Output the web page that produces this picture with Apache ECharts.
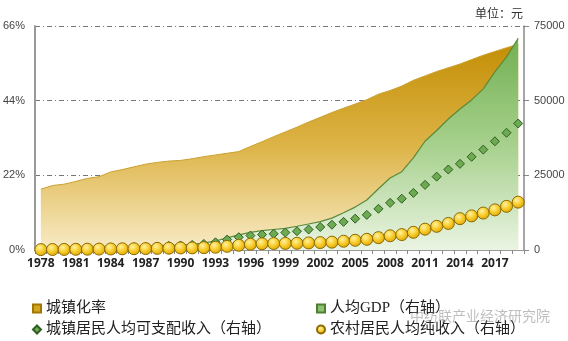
<!DOCTYPE html>
<html>
<head>
<meta charset="utf-8">
<script src="https://cdn.jsdelivr.net/npm/echarts@6/dist/echarts.min.js"></script>
<style>html,body{margin:0;padding:0;background:#fff;}#c{width:568px;height:341px;}</style>
</head>
<body>
<div id="c"></div>
<script>
const years = [];
for (let y = 1978; y <= 2019; y++) years.push(String(y));

const urbanRate = [17.9,19.0,19.4,20.2,21.1,21.6,23.0,23.7,24.5,25.3,25.8,26.2,26.4,26.9,27.5,28.0,28.5,29.0,30.5,31.9,33.4,34.8,36.2,37.7,39.1,40.5,41.8,43.0,44.3,45.9,47.0,48.3,50.0,51.3,52.6,53.7,54.8,56.1,57.4,58.5,59.6,60.6];

const gdpPerCapita = [385,423,468,497,533,588,702,866,973,1123,1378,1536,1663,1912,2334,3027,4081,5091,5898,6481,6860,7229,7942,8717,9506,10666,12487,14368,16738,20505,24121,26222,30876,36403,40007,43852,47203,50251,53935,59660,64644,70892];

const urbanIncome = [343,405,478,500,535,565,652,739,900,1002,1180,1374,1510,1701,2027,2577,3496,4283,4839,5160,5425,5854,6280,6860,7703,8472,9422,10493,11759,13786,15781,17175,19109,21810,24565,26955,28844,31195,33616,36396,39251,42359];

const ruralIncome = [134,160,191,223,270,310,355,398,424,463,545,602,686,709,784,922,1221,1578,1926,2090,2162,2210,2253,2366,2476,2622,2936,3255,3587,4140,4761,5153,5919,6977,7917,8896,10489,11422,12363,13432,14617,16021];

const leftTicks = [0, 22, 44, 66];
const rightTicks = [0, 25000, 50000, 75000];

const names = ['城镇化率', '人均GDP（右轴）', '城镇居民人均可支配收入（右轴）', '农村居民人均纯收入（右轴）'];

const chart = echarts.init(document.getElementById('c'), null, {renderer: 'canvas'});
const dashDot = [5, 3, 1, 3];
const legendText = {fontSize: 15, color: '#222', fontFamily: '"Liberation Serif","Noto Sans CJK SC",serif'};
const goldGrad = new echarts.graphic.LinearGradient(0, 0, 0, 1, [
  {offset: 0, color: '#C48F05'},
  {offset: 0.5, color: '#DDB448'},
  {offset: 1, color: '#F8EBC6'}
]);
const greenGrad = new echarts.graphic.LinearGradient(0, 0, 0, 1, [
  {offset: 0, color: '#72B052'},
  {offset: 0.5, color: '#A6D08C'},
  {offset: 1, color: '#EAF4E2'}
]);
const circleGrad = new echarts.graphic.RadialGradient(0.4, 0.35, 0.7, [
  {offset: 0, color: '#FFF2A0'},
  {offset: 0.5, color: '#F8CC2C'},
  {offset: 1, color: '#D9A000'}
]);

function mkLegend(name, left, top, icon) {
  return {
    data: [name], left: left, top: top, icon: icon,
    itemWidth: 8, itemHeight: 8, itemGap: 0, padding: 0,
    textStyle: legendText, selectedMode: false
  };
}

chart.setOption({
  animation: false,
  grid: {left: 34, right: 44, top: 26, bottom: 91},
  legend: [
    mkLegend(names[0], 32, 301, 'rect'),
    mkLegend(names[1], 316, 301, 'rect'),
    mkLegend(names[2], 32, 322, 'diamond'),
    mkLegend(names[3], 316, 322, 'circle')
  ],
  graphic: [
    {type: 'text', right: 45, top: 7, style: {text: '单位：元', fontSize: 12, fill: '#333', fontFamily: '"Noto Sans CJK SC"'}},
    {type: 'text', left: 410, top: 309, z: 100, style: {text: '中纺联产业经济研究院', fontSize: 14, fill: 'rgba(110,110,110,0.45)', fontFamily: '"Noto Sans CJK SC"'}}
  ],
  xAxis: {
    type: 'category', data: years, boundaryGap: true,
    axisLine: {show: true, lineStyle: {color: '#999', width: 1}},
    axisTick: {show: true, interval: 0, length: 4, lineStyle: {color: '#888'}},
    axisLabel: {interval: 2, fontSize: 12, fontWeight: 'bold', color: '#222', margin: 8, fontFamily: '"Open Sans",sans-serif'},
    splitLine: {show: false}
  },
  yAxis: [
    {
      type: 'value', min: leftTicks[0], max: leftTicks[3], interval: leftTicks[1],
      axisLine: {show: true, lineStyle: {color: '#999', width: 2}},
      axisTick: {show: false},
      axisLabel: {formatter: '{value}%', fontSize: 11, color: '#444', margin: 10},
      splitLine: {show: true, lineStyle: {color: '#777', type: dashDot, width: 1}}
    },
    {
      type: 'value', min: rightTicks[0], max: rightTicks[3], interval: rightTicks[1],
      position: 'right',
      axisLine: {show: true, lineStyle: {color: '#888', width: 1.5}},
      axisTick: {show: true, length: 5, lineStyle: {color: '#888'}},
      axisLabel: {fontSize: 11, color: '#444', margin: 10, formatter: function (v) { return String(v); }},
      splitLine: {show: false}
    }
  ],
  series: [
    {
      name: names[0], type: 'line', yAxisIndex: 0, data: urbanRate,
      symbol: 'none', lineStyle: {color: '#C9A030', width: 1},
      itemStyle: {color: '#D4A520', borderColor: '#A07800', borderWidth: 1},
      areaStyle: {color: goldGrad, opacity: 1}, z: 1
    },
    {
      name: names[1], type: 'line', yAxisIndex: 1, data: gdpPerCapita,
      symbol: 'none', lineStyle: {color: '#5B8A3A', width: 1.2},
      itemStyle: {color: '#8DC26F', borderColor: '#4E7E33', borderWidth: 1},
      areaStyle: {color: greenGrad, opacity: 1}, z: 2
    },
    {
      name: names[2], type: 'line', yAxisIndex: 1, data: urbanIncome,
      symbol: 'diamond', symbolSize: 9, showAllSymbol: true,
      lineStyle: {width: 0, opacity: 0},
      itemStyle: {color: '#6DAA52', borderColor: '#2F5E24', borderWidth: 1},
      z: 3
    },
    {
      name: names[3], type: 'line', yAxisIndex: 1, data: ruralIncome,
      symbol: 'circle', symbolSize: 12, showAllSymbol: true,
      lineStyle: {width: 0, opacity: 0},
      itemStyle: {color: circleGrad, borderColor: '#8C6A00', borderWidth: 1},
      z: 4
    }
  ]
});
</script>
</body>
</html>
